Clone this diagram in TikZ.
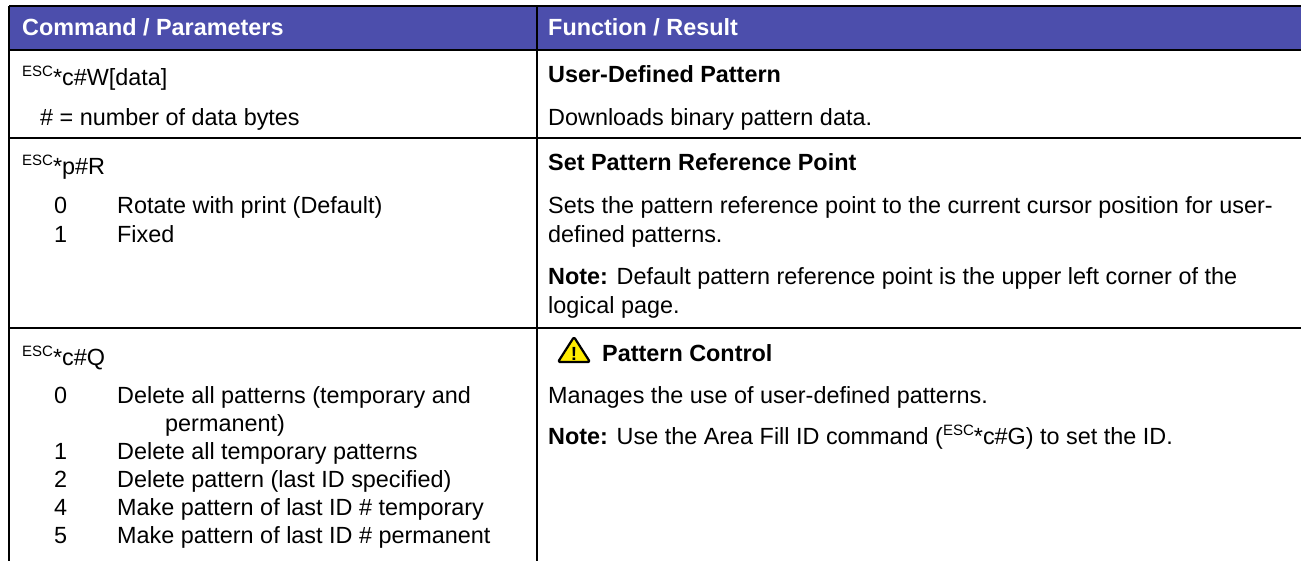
\documentclass[tikz,border=0pt]{standalone}
\usepackage{fontspec}
\setmainfont{Liberation Sans}
\definecolor{hdr}{RGB}{76,78,172}
\definecolor{warn}{RGB}{255,236,0}
\newcommand{\escsup}{{\fontsize{15}{15}\selectfont\raisebox{9pt}{ESC}}}
\begin{document}
\begin{tikzpicture}[x=1pt,y=-1pt,
  txt/.style={inner sep=0pt, anchor=base west, font=\fontsize{23.4}{28}\selectfont},
  bld/.style={inner sep=0pt, anchor=base west, font=\fontsize{23.4}{28}\selectfont\bfseries},
  hd/.style={bld, text=white},
  rule/.style={line width=2pt, black},
  warnsign/.style={fill=warn, draw=black, line width=2.2pt, rounded corners=1.5pt, line join=round}]
\useasboundingbox (0,0) rectangle (1301,561);
% grid coordinates
\coordinate (tl) at (9,6);   \coordinate (tr) at (1301,6);
\coordinate (hl) at (9,50);  \coordinate (hr) at (1301,50);
\coordinate (al) at (9,138); \coordinate (ar) at (1301,138);
\coordinate (bl) at (9,328); \coordinate (br) at (1301,328);
\coordinate (lb) at (9,561);
\coordinate (dt) at (537,6); \coordinate (db) at (537,561);
\fill[hdr] (tl) rectangle (hr);
\draw[rule] (tl) -- (tr);
\draw[rule] (hl) -- (hr);
\draw[rule] (al) -- (ar);
\draw[rule] (bl) -- (br);
\draw[rule] (tl) -- (lb);
\draw[rule] (dt) -- (db);
% header
\node[hd] (h1) at (22,36) {Command / Parameters};
\node[hd] (h2) at (548,36) {Function / Result};
% row 1
\node[txt] (c1) at (22,86) {\escsup*c\#W[data]};
\node[txt] (c1a) at (40,126) {\# = number of data bytes};
\node[bld] (f1) at (548,83) {User-Defined Pattern};
\node[txt] (f1a) at (548,126) {Downloads binary pattern data.};
% row 2
\node[txt] (c2) at (22,175) {\escsup*p\#R};
\node[txt] (c2n0) at (54,214) {0};
\node[txt] (c2t0) at (117,214) {Rotate with print (Default)};
\node[txt] (c2n1) at (54,243) {1};
\node[txt] (c2t1) at (117,243) {Fixed};
\node[bld] (f2) at (548,171) {Set Pattern Reference Point};
\node[txt] (f2a) at (548,214) {Sets the pattern reference point to the current cursor position for user-};
\node[txt] (f2b) at (548,243) {defined patterns.};
\node[txt] (f2c) at (548,285) {\textbf{Note:} Default pattern reference point is the upper left corner of the};
\node[txt] (f2d) at (548,314) {logical page.};
% row 3
\node[txt] (c3) at (22,365) {\escsup*c\#Q};
\node[txt] (c3n0) at (54,403) {0};
\node[txt] (c3t0) at (117,403) {Delete all patterns (temporary and};
\node[txt] (c3t0b) at (165,431) {permanent)};
\node[txt] (c3n1) at (54,459) {1};
\node[txt] (c3t1) at (117,459) {Delete all temporary patterns};
\node[txt] (c3n2) at (54,487) {2};
\node[txt] (c3t2) at (117,487) {Delete pattern (last ID specified)};
\node[txt] (c3n4) at (54,515) {4};
\node[txt] (c3t4) at (117,515) {Make pattern of last ID \# temporary};
\node[txt] (c3n5) at (54,543) {5};
\node[txt] (c3t5) at (117,543) {Make pattern of last ID \# permanent};
\draw[warnsign] (574,337) -- (590,362) -- (558,362) -- cycle;
\node[inner sep=0pt, anchor=base, font=\fontsize{19}{19}\selectfont\bfseries] (wx) at (574,360) {!};
\node[bld] (f3) at (602,361) {Pattern Control};
\node[txt] (f3a) at (548,403) {Manages the use of user-defined patterns.};
\node[txt] (f3b) at (548,444) {\textbf{Note:} Use the Area Fill ID command (\escsup*c\#G) to set the ID.};
\end{tikzpicture}
\end{document}
